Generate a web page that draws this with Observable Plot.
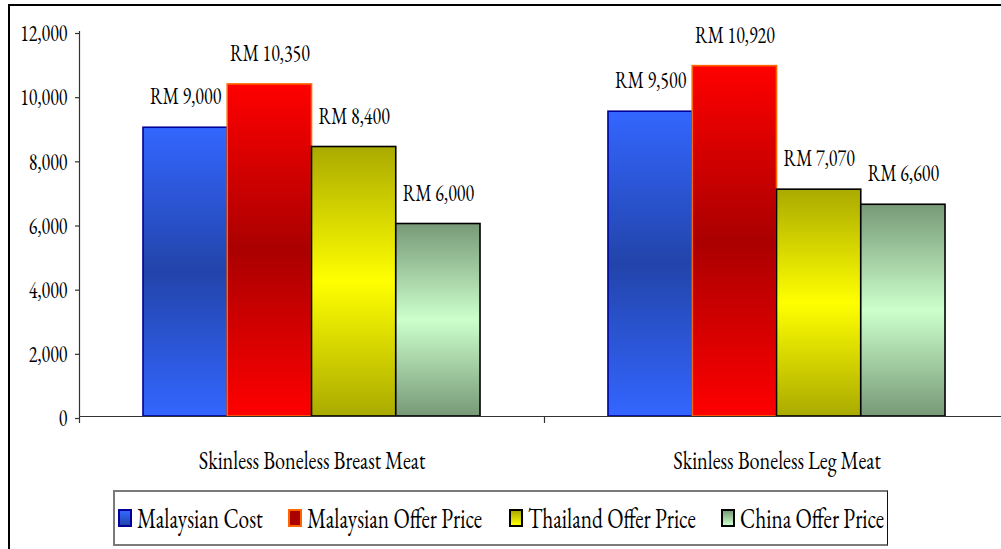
<!DOCTYPE html>
<html>
<head>
<meta charset="utf-8">
<script src="https://cdn.jsdelivr.net/npm/d3@7"></script>
<script src="https://cdn.jsdelivr.net/npm/@observablehq/plot@0.6"></script>
<style>
  html, body { margin: 0; padding: 0; overflow: hidden; background: #fff; width: 1001px; height: 549px; }
  #chart { position: absolute; left: 0; top: 0; }
  #chart svg text { font-family: "EB Garamond", Garamond, "Liberation Serif", serif !important; font-variant-numeric: lining-nums; }
  #frame { position: absolute; left: 8px; top: 4px; width: 1100px; height: 700px;
           border-top: 2px solid #000; border-left: 2px solid #000; pointer-events: none; }
  #legend { position: absolute; left: 113px; top: 490px; width: 772px; height: 52px;
            border: 2px solid #7a7a7a; border-right: 1.5px solid #111; background: #fff;
            display: flex; align-items: center; justify-content: center; gap: 26px;
            font-family: "EB Garamond", Garamond, "Liberation Serif", serif; font-size: 28.5px; color: #000;
            font-variant-numeric: lining-nums; }
  .item { display: flex; align-items: center; white-space: nowrap; }
  .sw { width: 10px; height: 14px; margin-right: 5px; box-sizing: content-box; }
  .lt { display: inline-block; transform: scaleX(0.75); transform-origin: 0 50%; line-height: 1; }
</style>
</head>
<body>
<div id="chart"></div>
<div id="frame"></div>
<div id="legend"></div>
<script>
// ---- data ----
const categories = ["Skinless Boneless Breast Meat", "Skinless Boneless Leg Meat"];
const series = ["Malaysian Cost", "Malaysian Offer Price", "Thailand Offer Price", "China Offer Price"];
const malaysianCost = [9000, 9500];
const malaysianOfferPrice = [10350, 10920];
const thailandOfferPrice = [8400, 7070];
const chinaOfferPrice = [6000, 6600];
const yTicks = [0, 2000, 4000, 6000, 8000, 10000, 12000];

// ---- styles ----
const gradStops = [
  ["#3366ff", "#2244aa", "#3366ff"],
  ["#ff0000", "#aa0000", "#ff0000"],
  ["#aaaa00", "#ffff00", "#aaaa00"],
  ["#779977", "#ccffcc", "#779977"]
];
const strokes = ["#000099", "#ff6600", "#000000", "#000000"];
const PAD = 0.1376;           // outer padding inside each category band
const W = (1 - 2 * PAD) / 4;  // bar width as a fraction of a category band
const SQUEEZE = 0.75;         // horizontal squeeze of the original typeface

const valuesBySeries = [malaysianCost, malaysianOfferPrice, thailandOfferPrice, chinaOfferPrice];
const rows = [];
categories.forEach((cat, ci) => {
  series.forEach((s, si) => {
    rows.push({cat, ci, series: s, si, value: valuesBySeries[si][ci]});
  });
});

const fmt = d3.format(",");

const plot = Plot.plot({
  width: 1020,
  height: 480,
  marginLeft: 79,
  marginRight: 11,
  marginTop: 31,
  marginBottom: 64,
  style: {maxWidth: "none", background: "transparent", overflow: "visible", color: "#000"},
  x: {domain: [0, categories.length], axis: null},
  y: {domain: [0, 12000], axis: null},
  color: {type: "identity"},
  marks: [
    Plot.rectY(rows, {
      x1: d => d.ci + PAD + d.si * W,
      x2: d => d.ci + PAD + (d.si + 1) * W,
      y1: 0,
      y2: "value",
      fill: d => `url(#grad${d.si})`,
      stroke: d => strokes[d.si],
      strokeWidth: 1.6
    }),
    Plot.ruleY([0], {stroke: "#333", strokeWidth: 1.2}),
    Plot.ruleX([0], {y1: 0, y2: 12000, stroke: "#333", strokeWidth: 1.2}),
    Plot.axisX({ticks: [0, 1, 2], tickSize: 7, tickFormat: () => "", label: null, stroke: "#333", strokeWidth: 1.2}),
    Plot.axisY({ticks: yTicks, tickSize: 4, tickPadding: 8, tickFormat: fmt, label: null, fontSize: 24, fill: "#000",
                stroke: "#333", strokeWidth: 1.2, dy: 2}),
    Plot.text(rows, {
      x: d => d.ci + PAD + (d.si + 0.5) * W,
      y: "value",
      text: d => "RM " + fmt(d.value),
      dy: -31,
      fontSize: 24,
      fill: "#000",
      lineAnchor: "middle"
    }),
    Plot.text(categories, {
      x: (d, i) => i + 0.5,
      frameAnchor: "bottom",
      text: d => d,
      dy: 44,
      lineAnchor: "middle",
      fontSize: 27,
      fill: "#000"
    })
  ]
});

// gradient definitions (per-bar bounding box)
const defs = d3.select(plot).insert("defs", ":first-child");
gradStops.forEach((stops, i) => {
  const g = defs.append("linearGradient").attr("id", `grad${i}`)
    .attr("x1", 0).attr("y1", 0).attr("x2", 0).attr("y2", 1);
  g.append("stop").attr("offset", "0%").attr("stop-color", stops[0]);
  g.append("stop").attr("offset", "50%").attr("stop-color", stops[1]);
  g.append("stop").attr("offset", "100%").attr("stop-color", stops[2]);
});

// squeeze the typeface horizontally, around each label's own anchor
d3.select(plot).selectAll("text").each(function() {
  const t = this.getAttribute("transform");
  if (t) this.setAttribute("transform", `${t} scale(${SQUEEZE},1)`);
  else {
    const x = parseFloat(this.getAttribute("x")) || 0;
    this.setAttribute("transform", `translate(${x},0) scale(${SQUEEZE},1) translate(${-x},0)`);
  }
});
document.getElementById("chart").appendChild(plot);

// legend
const legend = d3.select("#legend");
series.forEach((s, i) => {
  const it = legend.append("div").attr("class", "item");
  const st = gradStops[i];
  it.append("div").attr("class", "sw")
    .style("background", i === 1 ? st[1] : `linear-gradient(to bottom, ${st[0]}, ${st[1]})`)
    .style("border", `2px solid ${strokes[i]}`);
  it.append("span").attr("class", "lt").text(s);
});
legend.selectAll(".lt").each(function() {
  const w = this.getBoundingClientRect().width; // already scaled
  const raw = this.offsetWidth;
  this.style.marginRight = `${w - raw}px`;
});
</script>
</body>
</html>
